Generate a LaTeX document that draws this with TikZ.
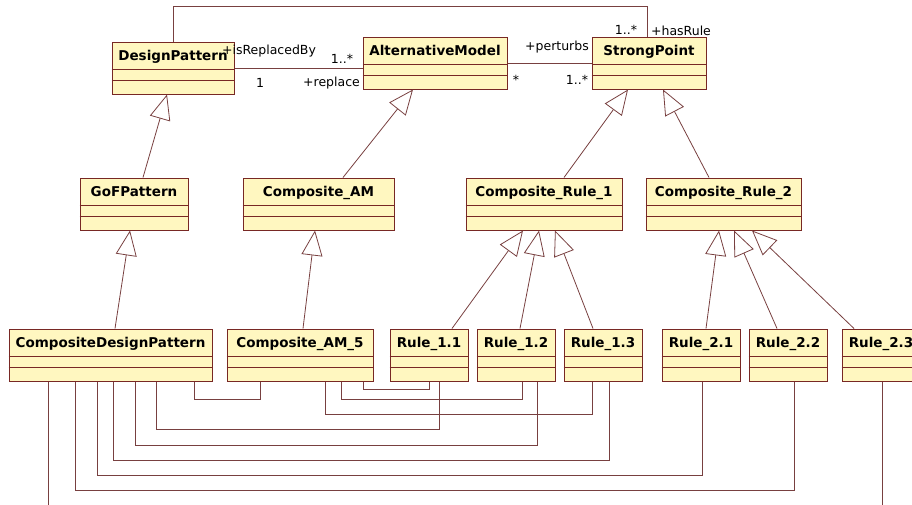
\documentclass[tikz,border=0pt]{standalone}
\usepackage{fontspec}
\setmainfont{DejaVu Sans}
\usetikzlibrary{arrows.meta}
\definecolor{umlfill}{RGB}{255,247,192}
\definecolor{umlline}{RGB}{120,40,36}
\definecolor{linkline}{RGB}{120,64,64}
\tikzset{cls/.style={draw=umlline,fill=umlfill,line width=1pt,inner sep=0pt,text height=18.5pt,text depth=33.5pt,font=\bfseries\fontsize{13.5}{16}\selectfont},
  gen/.style={draw=linkline,line width=.8pt,-{Triangle[open,length=25pt,width=21pt]}},
  assoc/.style={draw=linkline,line width=.8pt},
  lbl/.style={inner sep=0pt,text height=9pt,text depth=3pt,font=\fontsize{12.5}{15}\selectfont}}

\begin{document}
\begin{tikzpicture}[x=1pt,y=-1pt]
\useasboundingbox (0,0) rectangle (912,504);\clip (0,0) rectangle (912,504);
% classes, top row
\node[cls,minimum width=122pt] (dp) at (173,68) {DesignPattern};
\node[cls,minimum width=144pt] (am) at (435,63) {AlternativeModel};
\node[cls,minimum width=114pt] (sp) at (649,63) {StrongPoint};
% middle row
\node[cls,minimum width=108pt] (gof) at (134,204) {GoFPattern};
\node[cls,minimum width=151pt] (cam) at (318.5,204) {Composite\_AM};
\node[cls,minimum width=156pt] (cr1) at (544,204) {Composite\_Rule\_1};
\node[cls,minimum width=155pt] (cr2) at (723.5,204) {Composite\_Rule\_2};
% bottom row
\node[cls,minimum width=203pt] (cdp) at (110.5,355) {CompositeDesignPattern};
\node[cls,minimum width=146pt] (cam5) at (300,355) {Composite\_AM\_5};
\foreach \n/\x/\t in {r11/429/1.1,r12/516/1.2,r13/603/1.3,r21/701/2.1,r22/788/2.2,r23/881/2.3}
  \node[cls,minimum width=78pt] (\n) at (\x,355) {Rule\_\t};
% compartments
\foreach \c in {dp,am,sp,gof,cam,cr1,cr2,cdp,cam5,r11,r12,r13,r21,r22,r23}
  \draw[umlline,line width=1pt] ([yshift=-28pt]\c.north west) -- ([yshift=-28pt]\c.north east) ([yshift=-39pt]\c.north west) -- ([yshift=-39pt]\c.north east);

% generalizations
\draw[gen] ([xshift=9pt]gof.north) -- ([xshift=-6pt]dp.south);
\draw[gen] ([xshift=24.5pt]cam.north) -- ([xshift=-22pt]am.south);
\draw[gen] ([xshift=20pt]cr1.north) -- ([xshift=-21pt]sp.south);
\draw[gen] ([xshift=-14.5pt]cr2.north) -- ([xshift=14pt]sp.south);
\draw[gen] ([xshift=4.5pt]cdp.north) -- ([xshift=-4pt]gof.south);
\draw[gen] ([xshift=3pt]cam5.north) -- ([xshift=-3.5pt]cam.south);
\foreach \a/\da/\db in {r11/23/-21,r12/4/-5,r13/-10/11}
  \draw[gen] ([xshift=\da pt]\a.north) -- ([xshift=\db pt]cr1.south);
\foreach \a/\da/\db in {r21/5/-4.5,r22/-11/10.5,r23/-27/28.5}
  \draw[gen] ([xshift=\da pt]\a.north) -- ([xshift=\db pt]cr2.south);

% associations
\draw[assoc] (dp.east) -- (dp.east -| am.west);
\draw[assoc] (am.east) -- (sp.west);
\draw[assoc] (dp.north) -- ++(0,-35) -| ([xshift=-2pt]sp.north);
\foreach \a/\da/\b/\db/\h in {cdp/83.5/cam5/-40/18,cam5/63/r11/0/8,cam5/41/r12/6/18,cam5/25/r13/-11/33,
  cdp/45.5/r11/10/48,cdp/24.5/r12/21/64,cdp/2.5/r13/6/79,cdp/-13.5/r21/1/94,cdp/-35.5/r22/6/109,cdp/-62.5/r23/1/125}
  \draw[assoc] ([xshift=\da pt]\a.south) -- ++(0,\h) -| ([xshift=\db pt]\b.south);

% roles and multiplicities
\node[lbl] (isrep) at (269,51.5) {+isReplacedBy};
\node[lbl] (mrep) at (342,60.5) {1..*};
\node[lbl] (mone) at (260,84.5) {1};
\node[lbl] (rep) at (331.5,83.5) {+replace};
\node[lbl] (pert) at (557,47.5) {+perturbs};
\node[lbl] (mstar) at (516,81) {*};
\node[lbl] (mpert) at (577,81.5) {1..*};
\node[lbl] (mrule) at (626,31) {1..*};
\node[lbl] (hasr) at (681,32) {+hasRule};
\end{tikzpicture}
\end{document}
